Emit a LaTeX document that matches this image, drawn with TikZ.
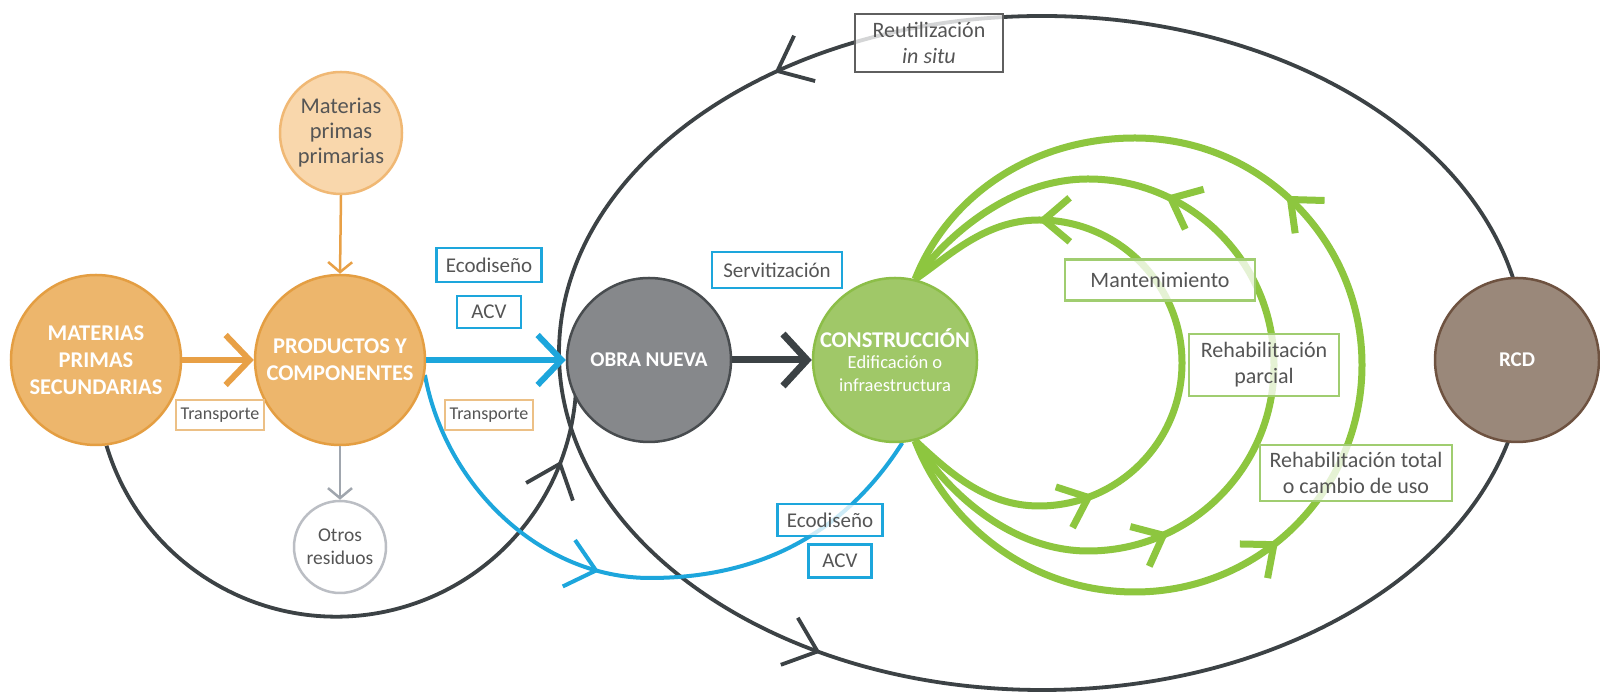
\documentclass[tikz,border=0pt]{standalone}
\usepackage{fontspec}
\setmainfont{Carlito}
\usetikzlibrary{arrows.meta,decorations.markings}
\definecolor{cOrF}{RGB}{237,182,108}
\definecolor{cOrD}{RGB}{228,158,66}
\definecolor{cOrA}{RGB}{232,160,70}
\definecolor{cLoF}{RGB}{249,215,172}
\definecolor{cLoD}{RGB}{240,184,116}
\definecolor{cGyF}{RGB}{134,136,139}
\definecolor{cGyD}{RGB}{72,76,79}
\definecolor{cGnF}{RGB}{160,200,104}
\definecolor{cGnD}{RGB}{140,190,72}
\definecolor{cGnL}{RGB}{141,198,63}
\definecolor{cRcF}{RGB}{154,136,122}
\definecolor{cRcD}{RGB}{110,82,64}
\definecolor{cBlue}{RGB}{29,166,220}
\definecolor{cDark}{RGB}{60,66,69}
\definecolor{cText}{RGB}{85,85,85}
\definecolor{cBoxOr}{RGB}{236,192,134}
\definecolor{cBoxGn}{RGB}{160,205,112}
\definecolor{cBoxGy}{RGB}{95,95,95}
\definecolor{cOrB}{RGB}{187,190,196}
\definecolor{cGyA}{RGB}{160,166,174}
\tikzset{
  circnode/.style={circle, line width=2.5pt, inner sep=0pt, align=center},
  bigtxt/.style={text=white, font=\fontsize{22.5}{27}\selectfont\bfseries},
  lbl/.style={draw, rectangle, fill=white, fill opacity=0.78, text opacity=1, text=cText,
    inner sep=0pt, align=center, font=\fontsize{21}{25}\selectfont},
  bluebox/.style={lbl, draw=cBlue, line width=2.8pt},
  orbox/.style={lbl, draw=cBoxOr, line width=2pt, font=\fontsize{18}{22}\selectfont},
  gnbox/.style={lbl, draw=cBoxGn, line width=2.5pt, font=\fontsize{22}{26}\selectfont},
  gybox/.style={lbl, draw=cBoxGy, line width=2.5pt, font=\fontsize{22}{26}\selectfont},
  darkline/.style={draw=cDark, line width=3.8pt},
  greenloop/.style={draw=cGnL, line width=7pt},
  bluecurve/.style={draw=cBlue, line width=4pt},
}
\begin{document}
\begin{tikzpicture}[x=1pt,y=1pt]
\useasboundingbox (0,0) rectangle (1600,695);
\fill[white] (0,0) rectangle (1600,695);

% big ellipse (reuse cycle)
\draw[darkline, postaction={decorate}, decoration={markings,
  mark=at position 0.356 with {\arrow{Straight Barb[length=30pt,width=50pt]}},
  mark=at position 0.663 with {\arrow{Straight Barb[length=30pt,width=50pt]}}}]
  (1042,342) ellipse [x radius=483, y radius=337];

% anchor-only nodes
\node[circnode, minimum size=170pt] (MPS) at (96,335) {};
\node[circnode, minimum size=170pt] (PC) at (340,335) {};
\node[circnode, minimum size=164pt] (ON) at (649,335) {};
\node[circnode, minimum size=164pt] (CON) at (895,335) {};

% left dark arc from MPS to ON
\draw[darkline, postaction={decorate}, decoration={markings,
  mark=at position 0.885 with {\arrow{Straight Barb[length=30pt,width=50pt]}}}]
  (MPS.-83) arc[start angle=196.7, end angle=358, radius=240];

% blue curve from PC to CON
\draw[bluecurve, postaction={decorate}, decoration={markings,
  mark=at position 0.44 with {\arrow{Straight Barb[length=28pt,width=48pt]}}}]
  (PC.-10) .. controls (445,210) and (540,117) .. (650,117)
  .. controls (770,117) and (850,170) .. (CON.-85);

% green loops
\draw[greenloop, postaction={decorate}, decoration={markings,
  mark=at position 0.272 with {\arrow{Straight Barb[length=26pt,width=44pt]}},
  mark=at position 0.81 with {\arrow{Straight Barb[length=26pt,width=44pt]}}}]
  (CON.-76) .. controls (947,225) and (984,189) .. (1039,189)
  arc[start angle=-90, end angle=90, radius=143]
  .. controls (984,475) and (947,437) .. (CON.76);
\draw[greenloop, postaction={decorate}, decoration={markings,
  mark=at position 0.295 with {\arrow{Straight Barb[length=26pt,width=44pt]}},
  mark=at position 0.714 with {\arrow{Straight Barb[length=26pt,width=44pt]}}}]
  (CON.-76) .. controls (949,200) and (1013,144) .. (1088,144)
  arc[start angle=-90, end angle=90, radius=186]
  .. controls (1013,516) and (949,462) .. (CON.76);
\draw[greenloop, postaction={decorate}, decoration={markings,
  mark=at position 0.344 with {\arrow{Straight Barb[length=26pt,width=44pt]}},
  mark=at position 0.652 with {\arrow{Straight Barb[length=26pt,width=44pt]}}}]
  (CON.-76) .. controls (947,171) and (1030,103) .. (1135,103)
  arc[start angle=-90, end angle=90, radius=227]
  .. controls (1030,557) and (947,497) .. (CON.76);

% visible circles
\node[circnode, minimum size=170pt, fill=cOrF, draw=cOrD, bigtxt] at (MPS) {MATERIAS\\PRIMAS\\SECUNDARIAS};
\node[circnode, minimum size=170pt, fill=cOrF, draw=cOrD, bigtxt] at (PC) {PRODUCTOS Y\\COMPONENTES};
\node[circnode, minimum size=122pt, fill=cLoF, draw=cLoD, text=cText, font=\fontsize{22.5}{25}\selectfont] (MPP) at (341,562) {Materias\\primas\\primarias};
\node[circnode, minimum size=92pt, fill=white, draw=cOrB, text=cText, font=\fontsize{19.5}{23}\selectfont] (OR) at (340,148) {Otros\\residuos};
\node[circnode, minimum size=164pt, fill=cGyF, draw=cGyD, bigtxt, font=\fontsize{21}{25}\selectfont\bfseries] at (ON) {OBRA NUEVA};
\node[circnode, minimum size=164pt, fill=cGnF, draw=cGnD, text=white, font=\fontsize{18.5}{23}\selectfont] at (CON) {{\fontsize{22.5}{27}\selectfont\bfseries CONSTRUCCIÓN}\\[-2pt]Edificación o\\infraestructura};
\node[circnode, minimum size=164pt, fill=cRcF, draw=cRcD, bigtxt, font=\fontsize{21}{25}\selectfont\bfseries] (RCD) at (1517,335) {RCD};

% straight arrows
\draw[draw=cOrA, line width=6pt, -{Straight Barb[length=24pt,width=50pt]}] (MPS.east) -- (PC.west);
\draw[draw=cBlue, line width=6pt, -{Straight Barb[length=24pt,width=50pt]}] (PC.east) -- (ON.west);
\draw[draw=cDark, line width=7pt, -{Straight Barb[length=24pt,width=52pt]}] (ON.east) -- (CON.west);
\draw[draw=cOrA, line width=2.5pt, -{Straight Barb[length=10pt,width=24pt]}] (MPP.south) -- (PC.north);
\draw[draw=cGyA, line width=2.5pt, -{Straight Barb[length=10pt,width=24pt]}] (PC.south) -- (OR.north);

% labels
\node[bluebox, minimum width=105pt, minimum height=34pt] (eco1) at (489,430) {Ecodiseño};
\node[bluebox, minimum width=64pt, minimum height=32pt] (acv1) at (489,383) {ACV};
\node[orbox, minimum width=88pt, minimum height=30pt] (tr1) at (220,280) {Transporte};
\node[orbox, minimum width=88pt, minimum height=30pt] (tr2) at (489,280) {Transporte};
\node[bluebox, minimum width=130pt, minimum height=36pt] (serv) at (777,425) {Servitización};
\node[bluebox, minimum width=105pt, minimum height=32pt] (eco2) at (830,175) {Ecodiseño};
\node[bluebox, minimum width=63pt, minimum height=33pt] (acv2) at (840,134) {ACV};
\node[gybox, minimum width=148pt, minimum height=58pt] (reut) at (929,652) {Reutilización\\\textit{in situ}};
\node[gnbox, minimum width=190pt, minimum height=41pt] (mant) at (1160,415) {Mantenimiento};
\node[gnbox, minimum width=150pt, minimum height=62pt] (rehp) at (1264,330) {Rehabilitación\\parcial};
\node[gnbox, minimum width=192pt, minimum height=56pt] (reht) at (1356,222) {Rehabilitación total\\o cambio de uso};
\end{tikzpicture}
\end{document}
